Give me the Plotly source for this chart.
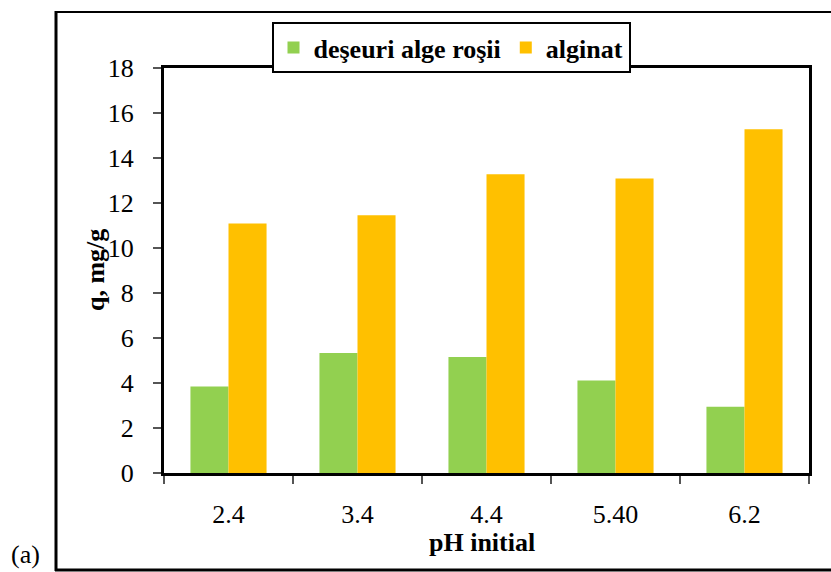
import plotly.graph_objects as go

categories = ["2.4", "3.4", "4.4", "5.40", "6.2"]
alge_rosii = [3.85, 5.33, 5.16, 4.11, 2.94]
alginat = [11.09, 11.46, 13.28, 13.09, 15.28]
series_names = ["deşeuri alge roşii", "alginat"]
y_ticks = list(range(0, 19, 2))

W, H = 831, 572
L, R, T, B = 164, 809, 68, 473  # plot area in px

def px(x):
    return (x - L) / (R - L)

def py(y):
    return (B - y) / (B - T)

FONT = "Liberation Serif, Times New Roman, Times, serif"
FS = 26

fig = go.Figure()
fig.add_trace(go.Bar(x=categories, y=alge_rosii, name=series_names[0],
                     marker=dict(color="#92D050", line=dict(width=0))))
fig.add_trace(go.Bar(x=categories, y=alginat, name=series_names[1],
                     marker=dict(color="#FFC000", line=dict(width=0))))

fig.update_layout(
    width=W, height=H,
    margin=dict(l=L, r=W - R, t=T, b=H - B, pad=0),
    paper_bgcolor="white", plot_bgcolor="white",
    barmode="group", bargap=0.41, bargroupgap=0,
    font=dict(family=FONT, size=FS, color="black"),
    showlegend=True,
    legend=dict(
        orientation="h", x=px(451), xanchor="center", y=py(22), yanchor="top",
        bordercolor="black", borderwidth=2, bgcolor="white",
        font=dict(family=FONT, size=FS, color="black", weight="bold"),
        itemwidth=30, traceorder="normal", tracegroupgap=0,
    ),
    xaxis=dict(
        type="category", showline=True, linecolor="black", linewidth=3, mirror=True,
        ticks="outside", tickson="boundaries", ticklen=8, tickwidth=1.5, tickcolor="#555",
        tickfont=dict(family=FONT, size=FS, color="black"),
        ticklabelstandoff=16, showgrid=False, zeroline=False,
    ),
    yaxis=dict(
        range=[0, 18], tickvals=y_ticks, showline=True, linecolor="black", linewidth=3, mirror=True,
        ticks="outside", ticklen=8, tickwidth=1.5, tickcolor="#555",
        tickfont=dict(family=FONT, size=FS, color="black"),
        ticklabelstandoff=14, showgrid=False, zeroline=False,
    ),
    shapes=[
        dict(type="line", xref="paper", yref="paper", x0=px(56), x1=px(840), y0=py(12), y1=py(12),
             line=dict(color="black", width=2)),
        dict(type="line", xref="paper", yref="paper", x0=px(56), x1=px(56), y0=py(11), y1=py(571),
             line=dict(color="black", width=3)),
        dict(type="line", xref="paper", yref="paper", x0=px(55), x1=px(840), y0=py(570), y1=py(570),
             line=dict(color="black", width=3)),
    ],
    annotations=[
        dict(text="<b>pH initial</b>", xref="paper", yref="paper", x=px(482), y=py(542),
             xanchor="center", yanchor="middle", showarrow=False,
             font=dict(family=FONT, size=FS, color="black")),
        dict(text="<b>q, mg/g</b>", xref="paper", yref="paper", x=px(95), y=py(270),
             xanchor="center", yanchor="middle", showarrow=False, textangle=-90,
             font=dict(family=FONT, size=FS, color="black")),
        dict(text="(a)", xref="paper", yref="paper", x=px(25), y=py(554),
             xanchor="center", yanchor="middle", showarrow=False,
             font=dict(family=FONT, size=26, color="black")),
    ],
)

fig.write_html("out.html")
